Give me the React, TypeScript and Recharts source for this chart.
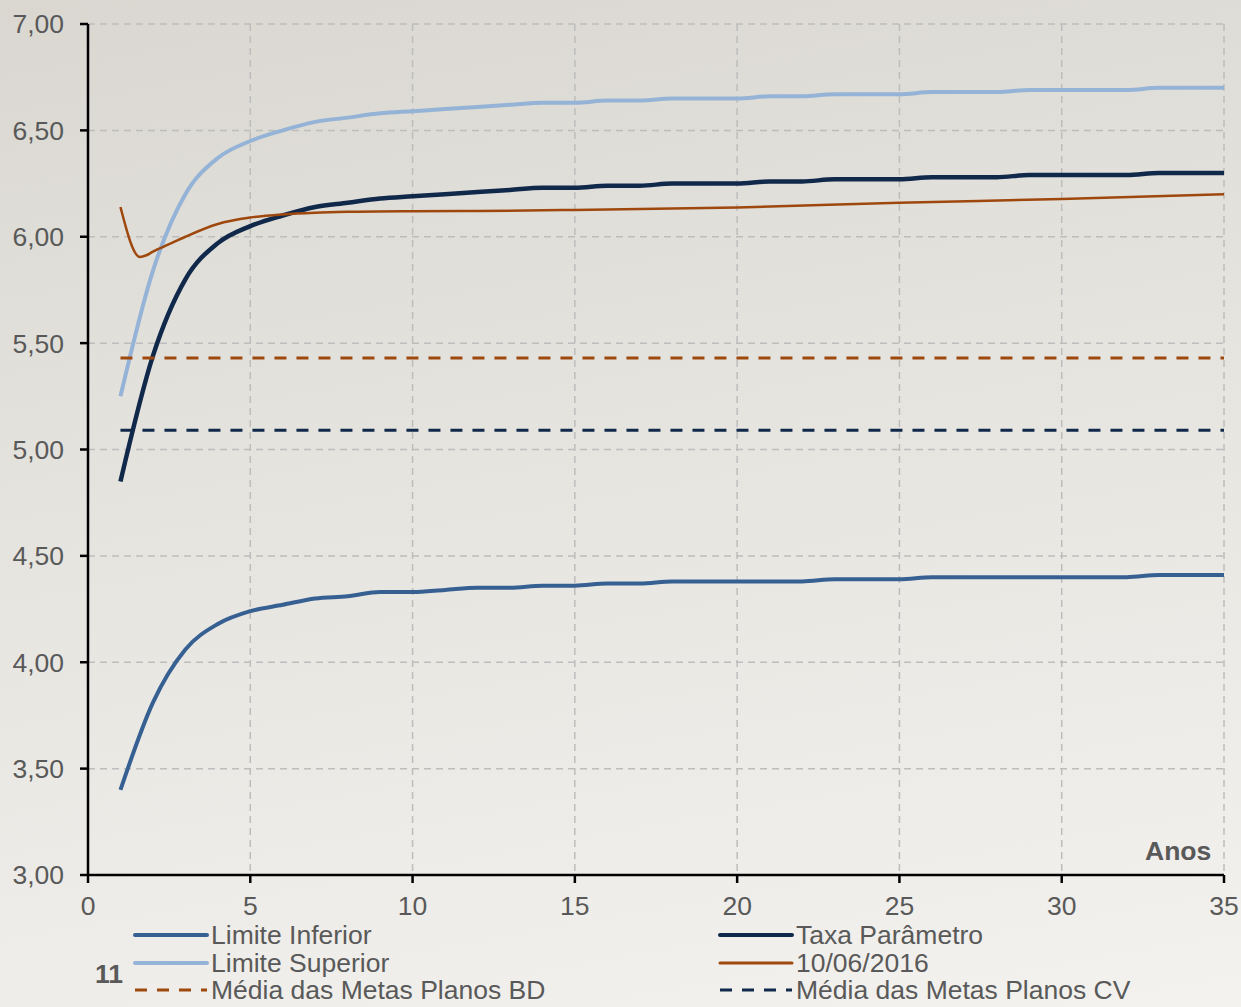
import React from 'react'
import { LineChart, Line, XAxis, YAxis, CartesianGrid } from 'recharts'

// anos inteiros da curva de juros
const anos = [1, 2, 3, 4, 5, 6, 7, 8, 9, 10, 11, 12, 13, 14, 15, 16, 17, 18, 19, 20, 21, 22, 23, 24, 25, 26, 27, 28, 29, 30, 31, 32, 33, 34, 35]
const taxaParametro = [4.85, 5.44, 5.80, 5.97, 6.05, 6.10, 6.14, 6.16, 6.18, 6.19, 6.20, 6.21, 6.22, 6.23, 6.23, 6.24, 6.24, 6.25, 6.25, 6.25, 6.26, 6.26, 6.27, 6.27, 6.27, 6.28, 6.28, 6.28, 6.29, 6.29, 6.29, 6.29, 6.30, 6.30, 6.30]
const limiteInferior = [3.40, 3.81, 4.06, 4.18, 4.24, 4.27, 4.30, 4.31, 4.33, 4.33, 4.34, 4.35, 4.35, 4.36, 4.36, 4.37, 4.37, 4.38, 4.38, 4.38, 4.38, 4.38, 4.39, 4.39, 4.39, 4.40, 4.40, 4.40, 4.40, 4.40, 4.40, 4.40, 4.41, 4.41, 4.41]
const limiteSuperior = [5.25, 5.84, 6.20, 6.37, 6.45, 6.50, 6.54, 6.56, 6.58, 6.59, 6.60, 6.61, 6.62, 6.63, 6.63, 6.64, 6.64, 6.65, 6.65, 6.65, 6.66, 6.66, 6.67, 6.67, 6.67, 6.68, 6.68, 6.68, 6.69, 6.69, 6.69, 6.69, 6.70, 6.70, 6.70]

// curva de 10/06/2016
const anosCurva = [1, 1.6, 1.8, 2, 2.5, 3, 4, 5, 6, 7, 8, 10, 12, 15, 20, 25, 30, 35]
const curva100616 = [6.14, 5.905, 5.913, 5.93, 5.965, 6.0, 6.06, 6.09, 6.105, 6.113, 6.117, 6.12, 6.121, 6.126, 6.138, 6.16, 6.177, 6.2]

// médias das metas
const anosMedia = [1, 35]
const mediaBD = [5.43, 5.43]
const mediaCV = [5.09, 5.09]

const yTicks = [3, 3.5, 4, 4.5, 5, 5.5, 6, 6.5, 7]
const xTicks = [0, 5, 10, 15, 20, 25, 30, 35]

const dadosAnos = anos.map((a, i) => ({
  ano: a,
  inferior: limiteInferior[i],
  taxa: taxaParametro[i],
  superior: limiteSuperior[i],
}))
const dadosCurva = anosCurva.map((a, i) => ({ ano: a, valor: curva100616[i] }))
const dadosBD = anosMedia.map((a, i) => ({ ano: a, valor: mediaBD[i] }))
const dadosCV = anosMedia.map((a, i) => ({ ano: a, valor: mediaCV[i] }))

const COR_INF = '#376092'
const COR_SUP = '#95b3d7'
const COR_TAXA = '#10294b'
const COR_LAR = '#9e480e'
const TXT = '#595959'
const FONTE = '"Liberation Sans", Arial, sans-serif'
const FS = 26.5

const legenda = [
  { nome: 'Limite Inferior', cor: COR_INF, larg: 4, tracejado: false },
  { nome: 'Taxa Parâmetro', cor: COR_TAXA, larg: 4, tracejado: false },
  { nome: 'Limite Superior', cor: COR_SUP, larg: 4, tracejado: false },
  { nome: '10/06/2016', cor: COR_LAR, larg: 3, tracejado: false },
  { nome: 'Média das Metas Planos BD', cor: COR_LAR, larg: 3, tracejado: true },
  { nome: 'Média das Metas Planos CV', cor: COR_TAXA, larg: 3, tracejado: true },
]
const linhasTopo = [923, 951, 978]

const fmt = (v: number) => v.toFixed(2).replace('.', ',')

export default function App() {
  return (
    <div
      style={{
        position: 'absolute',
        left: 0,
        top: 0,
        width: 1241,
        height: 1007,
        overflow: 'hidden',
        background: 'linear-gradient(170deg, #d9d7d0 0%, #e6e4df 45%, #f3f2ef 100%)',
        fontFamily: FONTE,
      }}
    >
      <LineChart width={1241} height={1007} margin={{ top: 24, right: 17, bottom: 102, left: 28 }}>
        <CartesianGrid stroke="#bdbdbd" strokeWidth={1.5} strokeDasharray="7 5" />
        <XAxis
          dataKey="ano"
          type="number"
          domain={[0, 35]}
          ticks={xTicks}
          height={30}
          axisLine={{ stroke: '#000', strokeWidth: 2.5 }}
          tickLine={{ stroke: '#000', strokeWidth: 2.5 }}
          tickSize={8}
          tickMargin={13}
          tick={{ fill: TXT, fontSize: FS, fontFamily: FONTE }}
          allowDuplicatedCategory={false}
        />
        <YAxis
          type="number"
          domain={[3, 7]}
          ticks={yTicks}
          width={60}
          axisLine={{ stroke: '#000', strokeWidth: 2.5 }}
          tickLine={{ stroke: '#000', strokeWidth: 2.5 }}
          tickSize={8}
          tickMargin={16}
          tickFormatter={fmt}
          tick={{ fill: TXT, fontSize: FS, fontFamily: FONTE }}
        />
        <Line data={dadosAnos} dataKey="inferior" type="monotone" stroke={COR_INF} strokeWidth={4} dot={false} isAnimationActive={false} />
        <Line data={dadosAnos} dataKey="taxa" type="monotone" stroke={COR_TAXA} strokeWidth={4.5} dot={false} isAnimationActive={false} />
        <Line data={dadosAnos} dataKey="superior" type="monotone" stroke={COR_SUP} strokeWidth={4} dot={false} isAnimationActive={false} />
        <Line data={dadosCurva} dataKey="valor" type="monotone" stroke={COR_LAR} strokeWidth={2.5} dot={false} isAnimationActive={false} />
        <Line data={dadosBD} dataKey="valor" type="linear" stroke={COR_LAR} strokeWidth={3} strokeDasharray="12 10" dot={false} isAnimationActive={false} />
        <Line data={dadosCV} dataKey="valor" type="linear" stroke={COR_TAXA} strokeWidth={3} strokeDasharray="12 10" dot={false} isAnimationActive={false} />
      </LineChart>

      <div style={{ position: 'absolute', left: 1145, top: 836, fontSize: FS, fontWeight: 'bold', color: TXT }}>Anos</div>
      <div style={{ position: 'absolute', left: 95, top: 961, fontSize: FS, lineHeight: 1, fontWeight: 'bold', color: TXT }}>11</div>

      {legenda.map((it, i) => {
        const col = i % 2
        const row = Math.floor(i / 2)
        return (
          <div
            key={it.nome}
            style={{
              position: 'absolute',
              left: col === 0 ? 133 : 718,
              top: linhasTopo[row],
              height: 24,
              display: 'flex',
              alignItems: 'center',
              fontSize: FS,
              lineHeight: '22px',
              color: TXT,
              whiteSpace: 'nowrap',
            }}
          >
            <svg width={76} height={10} style={{ marginRight: 2 }}>
              <line
                x1={2}
                x2={74}
                y1={5}
                y2={5}
                stroke={it.cor}
                strokeWidth={it.larg}
                strokeLinecap={it.tracejado ? 'butt' : 'round'}
                strokeDasharray={it.tracejado ? '12 10' : undefined}
              />
            </svg>
            <span>{it.nome}</span>
          </div>
        )
      })}
    </div>
  )
}
